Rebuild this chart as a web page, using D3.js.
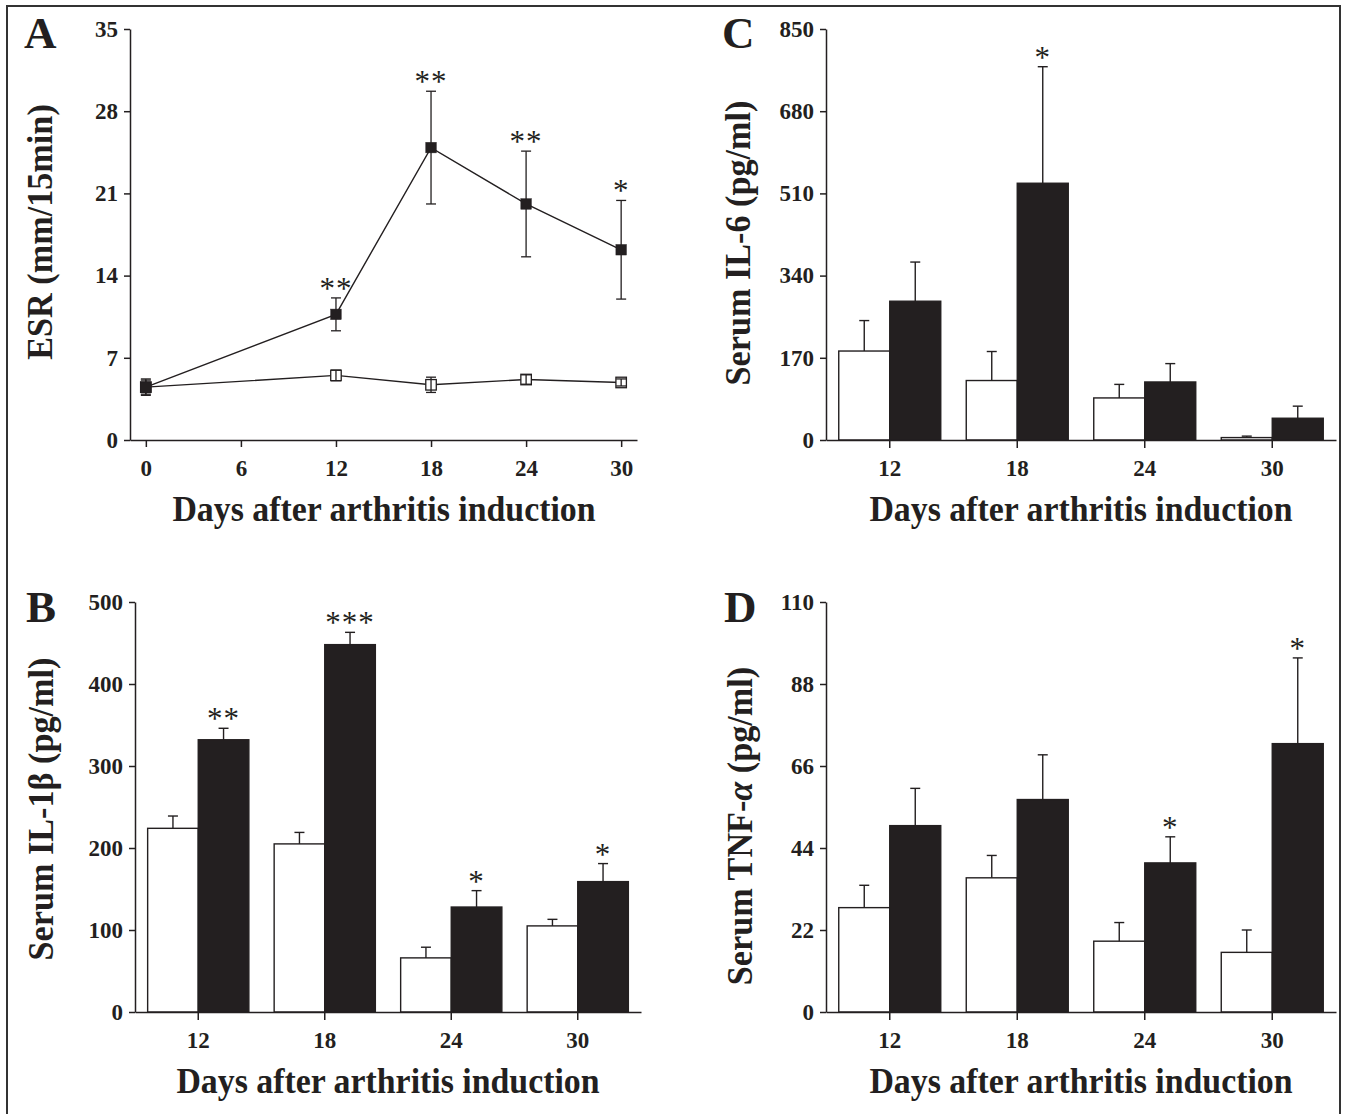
<!DOCTYPE html>
<html>
<head>
<meta charset="utf-8">
<script src="https://cdn.jsdelivr.net/npm/d3@7"></script>
<style>
  body { margin: 0; background: #fff; }
</style>
</head>
<body>
<div id="chart"></div>
<script>
"use strict";

// ---- data ----
// panel A: ESR, line chart
var esrDays = [0, 12, 18, 24, 30];
var esrXTicks = [0, 6, 12, 18, 24, 30];
var esrYTicks = [0, 7, 14, 21, 28, 35];
var esrControl = [4.5, 5.5, 4.7, 5.15, 4.9];
var esrControlErr = [0.6, 0.45, 0.65, 0.4, 0.3];
var esrArthritis = [4.5, 10.7, 24.9, 20.1, 16.2];
var esrArthritisErr = [0.7, 1.4, 4.8, 4.5, 4.2];
var esrStars = ["", "**", "**", "**", "*"];

// bar panels share the same days
var barDays = ["12", "18", "24", "30"];

// panel B: IL-1beta
var il1bYTicks = [0, 100, 200, 300, 400, 500];
var il1bControl = [224, 205, 66, 105];
var il1bControlErr = [15, 14, 13, 8];
var il1bArthritis = [332, 448, 128, 159];
var il1bArthritisErr = [14, 15, 20, 22];
var il1bStars = ["**", "***", "*", "*"];

// panel C: IL-6
var il6YTicks = [0, 170, 340, 510, 680, 850];
var il6Control = [184, 123, 87, 5];
var il6ControlErr = [63, 60, 28, 3];
var il6Arthritis = [287, 531, 120, 45];
var il6ArthritisErr = [81, 241, 38, 25];
var il6Stars = ["", "*", "", ""];

// panel D: TNF-alpha
var tnfYTicks = [0, 22, 44, 66, 88, 110];
var tnfControl = [28, 36, 19, 16];
var tnfControlErr = [6, 6, 5, 6];
var tnfArthritis = [50, 57, 40, 72];
var tnfArthritisErr = [10, 12, 7, 23];
var tnfStars = ["", "", "*", "*"];

var ink = "#231f20";
var serif = "'Liberation Serif','Times New Roman',Times,serif";

var svg = d3.select("#chart")
  .append("svg")
    .attr("width", 1345)
    .attr("height", 1114);

// frame round the whole figure
svg.append("rect")
  .attr("x", 7).attr("y", 6)
  .attr("width", 1333).attr("height", 1130)
  .attr("fill", "none")
  .attr("stroke", "#333")
  .attr("stroke-width", 2);

function styleAxis(sel) {
  sel.selectAll("path, line").attr("stroke", ink).attr("stroke-width", 1.5);
  sel.selectAll("text")
    .attr("font-family", serif)
    .attr("font-weight", "bold")
    .attr("font-size", 23)
    .attr("fill", ink);
}

// letter, rotated y title and x title
function labels(letter, lx, ly, yParts, ytx, yty, xcx, xby) {
  svg.append("text")
    .attr("x", lx).attr("y", ly)
    .attr("font-family", serif).attr("font-weight", "bold")
    .attr("font-size", 45).attr("fill", ink)
    .text(letter);

  var yt = svg.append("text")
    .attr("transform", "translate(" + ytx + "," + yty + ") rotate(-90) scale(0.95,1)")
    .attr("text-anchor", "middle")
    .attr("font-family", serif).attr("font-weight", "bold")
    .attr("font-size", 36).attr("fill", ink);
  yParts.forEach(function(p) {
    yt.append("tspan")
      .attr("font-style", p.italic ? "italic" : "normal")
      .text(p.t);
  });

  svg.append("text")
    .attr("transform", "translate(" + xcx + "," + xby + ") scale(0.94,1)")
    .attr("text-anchor", "middle")
    .attr("font-family", serif).attr("font-weight", "bold")
    .attr("font-size", 36).attr("fill", ink)
    .text("Days after arthritis induction");
}

function star(g, cx, y, s) {
  if (!s) return;
  g.append("text")
    .attr("x", cx).attr("y", y)
    .attr("text-anchor", "middle")
    .attr("font-family", serif)
    .attr("font-size", 31)
    .attr("letter-spacing", 1)
    .attr("fill", ink)
    .text(s);
}

// ---- panel A ----
function drawESR() {
  var x = d3.scaleLinear().domain([-1, 31]).range([130, 637]);
  var y = d3.scaleLinear().domain([0, 35]).range([440, 29]);
  var g = svg.append("g");

  g.append("g")
    .attr("transform", "translate(0,440)")
    .call(d3.axisBottom(x).tickValues(esrXTicks).tickSize(7).tickPadding(13).tickSizeOuter(0))
    .call(styleAxis);
  g.append("g")
    .attr("transform", "translate(130,0)")
    .call(d3.axisLeft(y).tickValues(esrYTicks).tickSize(6).tickPadding(6).tickSizeOuter(0))
    .call(styleAxis);

  var line = d3.line()
    .x(function(d, i) { return x(esrDays[i]); })
    .y(function(d) { return y(d); });

  function errBar(cx, y0, y1) {
    g.append("line").attr("x1", cx).attr("x2", cx).attr("y1", y0).attr("y2", y1)
      .attr("stroke", ink).attr("stroke-width", 1.3);
    [y0, y1].forEach(function(yy) {
      g.append("line").attr("x1", cx - 5).attr("x2", cx + 5).attr("y1", yy).attr("y2", yy)
        .attr("stroke", ink).attr("stroke-width", 1.3);
    });
  }

  function series(vals, errs, filled) {
    g.append("path")
      .datum(vals)
      .attr("fill", "none")
      .attr("stroke", ink)
      .attr("stroke-width", 1.4)
      .attr("d", line);
    var s = 10.5;
    vals.forEach(function(v, i) {
      var cx = x(esrDays[i]);
      if (filled) errBar(cx, y(v - errs[i]), y(v + errs[i]));
      g.append("rect")
        .attr("x", cx - s / 2).attr("y", y(v) - s / 2)
        .attr("width", s).attr("height", s)
        .attr("fill", filled ? ink : "#fff")
        .attr("stroke", ink)
        .attr("stroke-width", filled ? 0.5 : 1.3);
      // error bar shows through the open squares
      if (!filled) errBar(cx, y(v - errs[i]), y(v + errs[i]));
    });
  }

  series(esrControl, esrControlErr, false);
  series(esrArthritis, esrArthritisErr, true);

  esrStars.forEach(function(s, i) {
    star(g, x(esrDays[i]), y(esrArthritis[i] + esrArthritisErr[i]) + 1, s);
  });
}

// ---- bar panels B, C, D ----
function drawBars(p) {
  var x = d3.scaleBand().domain(barDays).range([p.x0, p.x1]).paddingInner(0.2).paddingOuter(0.1);
  var y = d3.scaleLinear().domain([0, p.ticks[p.ticks.length - 1]]).range([p.yb, p.yt]);
  var half = x.bandwidth() / 2;
  var g = svg.append("g");

  function bars(vals, errs, fill, dx) {
    vals.forEach(function(v, i) {
      var bx = x(barDays[i]) + dx;
      g.append("rect")
        .attr("x", bx).attr("y", y(v))
        .attr("width", half).attr("height", p.yb - y(v))
        .attr("fill", fill)
        .attr("stroke", ink)
        .attr("stroke-width", 1.4);
      var cx = bx + half / 2;
      var top = y(v + errs[i]);
      g.append("line").attr("x1", cx).attr("x2", cx).attr("y1", y(v)).attr("y2", top)
        .attr("stroke", ink).attr("stroke-width", 1.4);
      g.append("line").attr("x1", cx - 5).attr("x2", cx + 5).attr("y1", top).attr("y2", top)
        .attr("stroke", ink).attr("stroke-width", 1.4);
    });
  }
  bars(p.control, p.controlErr, "#fff", 0);
  bars(p.arth, p.arthErr, ink, half);

  p.stars.forEach(function(s, i) {
    star(g, x(barDays[i]) + half * 1.5, y(p.arth[i] + p.arthErr[i]) + 1, s);
  });

  g.append("g")
    .attr("transform", "translate(0," + p.yb + ")")
    .call(d3.axisBottom(x).tickSize(8).tickPadding(12).tickSizeOuter(0))
    .call(styleAxis);
  g.append("g")
    .attr("transform", "translate(" + p.x0 + ",0)")
    .call(d3.axisLeft(y).tickValues(p.ticks).tickSize(6).tickPadding(6).tickSizeOuter(0))
    .call(styleAxis);
}

drawESR();
labels("A", 24, 48, [{t: "ESR (mm/15min)"}], 52, 232, 384, 521);

drawBars({x0: 826, x1: 1336, yt: 29, yb: 440, ticks: il6YTicks,
  control: il6Control, controlErr: il6ControlErr,
  arth: il6Arthritis, arthErr: il6ArthritisErr, stars: il6Stars});
labels("C", 722, 48, [{t: "Serum IL-6 (pg/ml)"}], 750, 243, 1081, 521);

drawBars({x0: 135, x1: 641, yt: 602, yb: 1012, ticks: il1bYTicks,
  control: il1bControl, controlErr: il1bControlErr,
  arth: il1bArthritis, arthErr: il1bArthritisErr, stars: il1bStars});
labels("B", 26, 622, [{t: "Serum IL-1β (pg/ml)"}], 53, 809, 388, 1093);

drawBars({x0: 826, x1: 1336, yt: 602, yb: 1012, ticks: tnfYTicks,
  control: tnfControl, controlErr: tnfControlErr,
  arth: tnfArthritis, arthErr: tnfArthritisErr, stars: tnfStars});
labels("D", 724, 622, [{t: "Serum TNF-"}, {t: "α", italic: true}, {t: " (pg/ml)"}], 752, 826, 1081, 1093);
</script>
</body>
</html>
